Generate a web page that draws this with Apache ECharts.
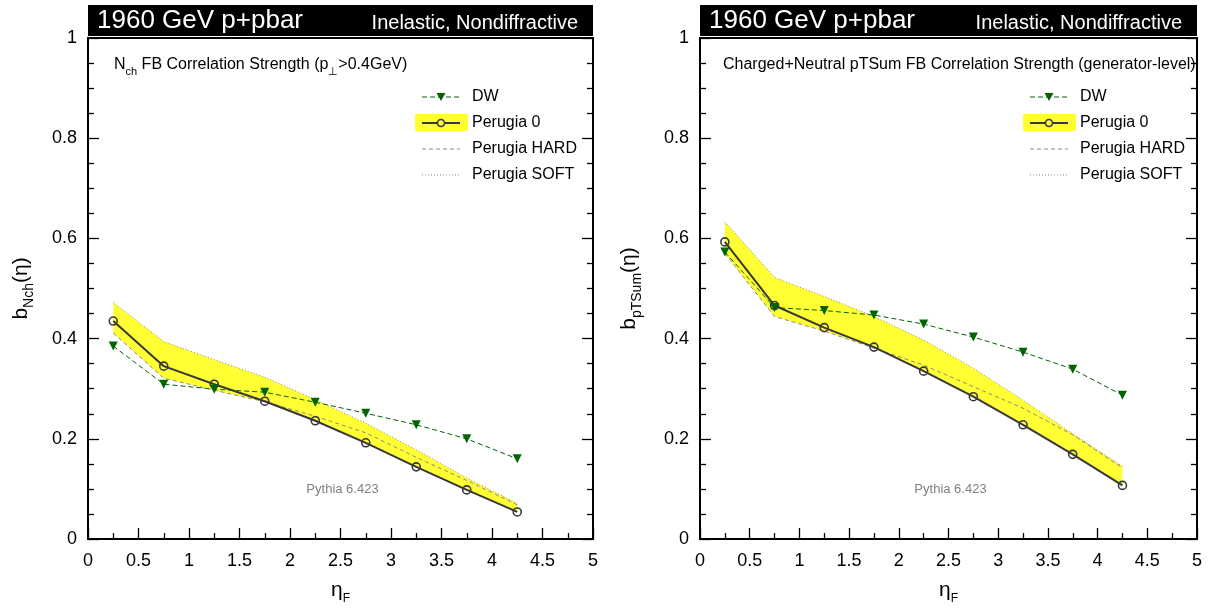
<!DOCTYPE html>
<html><head><meta charset="utf-8">
<script src="https://cdn.jsdelivr.net/npm/echarts@6/dist/echarts.min.js"></script>
<style>html,body{margin:0;padding:0;background:#fff}#c{width:1215px;height:608px}</style>
</head><body><div id="c"></div>
<script>
// ---- data ----
const eta = [0.25, 0.75, 1.25, 1.75, 2.25, 2.75, 3.25, 3.75, 4.25];
const xTicks = ['0','0.5','1','1.5','2','2.5','3','3.5','4','4.5','5'];
const yTicks = ['0','0.2','0.4','0.6','0.8','1'];
// Left panel: Nch FB correlation strength
const nchDW   = [0.385, 0.309, 0.299, 0.293, 0.273, 0.251, 0.228, 0.200, 0.160];
const nchP0   = [0.435, 0.345, 0.309, 0.275, 0.236, 0.192, 0.144, 0.098, 0.054];
const nchHARD = [0.411, 0.321, 0.297, 0.274, 0.245, 0.212, 0.163, 0.117, 0.068];
const nchSOFT = [0.472, 0.394, 0.358, 0.323, 0.278, 0.231, 0.178, 0.122, 0.071];
// Right panel: pTSum FB correlation strength
const ptDW   = [0.573, 0.462, 0.456, 0.447, 0.429, 0.403, 0.373, 0.339, 0.287];
const ptP0   = [0.593, 0.466, 0.422, 0.383, 0.335, 0.284, 0.228, 0.169, 0.107];
const ptHARD = [0.570, 0.444, 0.415, 0.381, 0.347, 0.304, 0.261, 0.208, 0.142];
const ptSOFT = [0.633, 0.522, 0.484, 0.444, 0.397, 0.341, 0.277, 0.210, 0.145];

const FONT = 'Liberation Sans, Arial, Helvetica, sans-serif';
const GREEN = '#006400', DARK = '#383838', GRAY = '#8a8a8a', YEL = '#ffff33';

function pairs(ys){ return eta.map((x,i)=>[x, ys[i]]); }

function panelSeries(gi, P0, HARD, SOFT, DW){
  const lo = P0.map((v,i)=>Math.min(v, HARD[i], SOFT[i]));
  const hi = P0.map((v,i)=>Math.max(v, HARD[i], SOFT[i]));
  const ax = {xAxisIndex: gi, yAxisIndex: gi*2};
  return [
    Object.assign({type:'custom', silent:true, z:1, data:[[eta[0], lo[0]]],
      renderItem:(params, api)=>{
        const pts = [];
        for (let i=0;i<eta.length;i++) pts.push(api.coord([eta[i], hi[i]]));
        for (let i=eta.length-1;i>=0;i--) pts.push(api.coord([eta[i], lo[i]]));
        return {type:'polygon', shape:{points:pts}, style:{fill:YEL}};
      }}, ax),
    Object.assign({type:'line', name:'Perugia HARD', data: pairs(HARD), symbol:'none',
      lineStyle:{color:GRAY, width:1, type:[4,3]}, z:3}, ax),
    Object.assign({type:'line', name:'Perugia SOFT', data: pairs(SOFT), symbol:'none',
      lineStyle:{color:GRAY, width:1, type:[1,2]}, z:3}, ax),
    Object.assign({type:'line', name:'Perugia 0', data: pairs(P0), symbol:'circle', symbolSize:8,
      itemStyle:{color:'rgba(0,0,0,0)', borderColor:DARK, borderWidth:1.6},
      lineStyle:{color:DARK, width:2}, z:4}, ax),
    Object.assign({type:'line', name:'DW', data: pairs(DW), symbol:'triangle', symbolRotate:180, symbolSize:9,
      itemStyle:{color:GREEN}, lineStyle:{color:GREEN, width:1, type:[5,3]}, z:5}, ax)
  ];
}

const grids = [
  {left:88, top:38, width:505, height:501},
  {left:700, top:38, width:497, height:501}
];

function xAxisFor(gi){
  return {type:'value', gridIndex:gi, min:0, max:5, interval:0.5, position:'bottom',
    axisLine:{show:true, onZero:false, lineStyle:{color:'#000', width:2}},
    axisTick:{show:true, inside:true, length:11, lineStyle:{color:'#000', width:1.3}},
    minorTick:{show:true, splitNumber:2, length:6, lineStyle:{color:'#000', width:1.3}},
    splitLine:{show:false},
    axisLabel:{color:'#000', fontSize:18, fontFamily:FONT, margin:13,
      formatter:(v)=>xTicks[Math.round(v/0.5)] ?? ''},
    name:'{i|η}{s|F}', nameLocation:'middle', nameGap:41,
    nameTextStyle:{rich:{
      i:{fontSize:21, fontFamily:FONT, color:'#000', lineHeight:25, verticalAlign:'top'},
      s:{fontSize:12, fontFamily:FONT, color:'#000', lineHeight:25, verticalAlign:'bottom'}
    }}
  };
}
function yAxisFor(gi, nameRich){
  return [{type:'value', gridIndex:gi, min:0, max:1, interval:0.2, position:'left',
    axisLine:{show:true, onZero:false, lineStyle:{color:'#000', width:2}},
    axisTick:{show:true, inside:true, length:11, lineStyle:{color:'#000', width:1.3}},
    minorTick:{show:true, splitNumber:4, length:6, lineStyle:{color:'#000', width:1.3}},
    splitLine:{show:false},
    axisLabel:{color:'#000', fontSize:18, fontFamily:FONT, margin:11,
      formatter:(v)=>yTicks[Math.round(v/0.2)] ?? ''},
    name:nameRich, nameLocation:'middle', nameGap:gi===0?52:56, nameRotate:90,
    nameTextStyle:{rich:{
      i:{fontSize:21, fontFamily:FONT, color:'#000', lineHeight:25, verticalAlign:'top'},
      s:{fontSize:14, fontFamily:FONT, color:'#000', lineHeight:25, verticalAlign:'bottom'}
    }}
  },
  {type:'value', gridIndex:gi, min:0, max:1, interval:0.2, position:'right',
    axisLine:{show:true, onZero:false, lineStyle:{color:'#000', width:2}},
    axisTick:{show:true, inside:true, length:11, lineStyle:{color:'#000', width:1.3}},
    minorTick:{show:true, splitNumber:4, length:6, lineStyle:{color:'#000', width:1.3}},
    splitLine:{show:false}, axisLabel:{show:false}
  }];
}

function panelGraphics(x0, x1, subtitleRich, subText, subX, legX){
  const g = [];
  // title bar
  g.push({type:'rect', shape:{x:x0, y:5, width:x1-x0, height:31}, style:{fill:'#000'}, z:10});
  g.push({type:'text', x:x0+9, y:21, style:{text:'1960 GeV p+pbar', fill:'#fff', font:'26px '+FONT, textVerticalAlign:'middle'}, z:11});
  g.push({type:'text', x:x1-15, y:23, style:{text:'Inelastic, Nondiffractive', fill:'#fff', font:'20px '+FONT, textAlign:'right', textVerticalAlign:'middle'}, z:11});
  // subtitle
  g.push({type:'text', x:subX, y:57, style:{text:subText, rich:subtitleRich, fill:'#000'}, z:11});
  // legend
  const lx0 = legX - 50, lx1 = legX - 12, lxm = (lx0+lx1)/2;
  const rows = [97, 123, 149, 175];
  const labels = ['DW','Perugia 0','Perugia HARD','Perugia SOFT'];
  g.push({type:'rect', shape:{x:legX-57, y:114, width:53, height:17}, style:{fill:YEL}, z:10});
  g.push({type:'line', shape:{x1:lx0, y1:rows[0], x2:lx1, y2:rows[0]}, style:{stroke:GREEN, lineWidth:1, lineDash:[5,3]}, z:11});
  g.push({type:'polygon', shape:{points:[[lxm-4.5,rows[0]-4],[lxm+4.5,rows[0]-4],[lxm,rows[0]+4]]}, style:{fill:GREEN}, z:12});
  g.push({type:'line', shape:{x1:lx0, y1:rows[1], x2:lx1, y2:rows[1]}, style:{stroke:DARK, lineWidth:2}, z:11});
  g.push({type:'circle', shape:{cx:lxm, cy:rows[1], r:3.5}, style:{fill:YEL, stroke:DARK, lineWidth:1.6}, z:12});
  g.push({type:'line', shape:{x1:lx0, y1:rows[2], x2:lx1, y2:rows[2]}, style:{stroke:GRAY, lineWidth:1, lineDash:[4,3]}, z:11});
  g.push({type:'line', shape:{x1:lx0, y1:rows[3], x2:lx1, y2:rows[3]}, style:{stroke:GRAY, lineWidth:1, lineDash:[1,2]}, z:11});
  labels.forEach((t,i)=>g.push({type:'text', x:legX, y:rows[i], style:{text:t, fill:'#000', font:'16px '+FONT, textVerticalAlign:'middle'}, z:11}));
  // generator tag
  g.push({type:'text', x:(x0+x1)/2+2, y:489, style:{text:'Pythia 6.423', fill:'#808080', font:'13px '+FONT, textAlign:'center', textVerticalAlign:'middle'}, z:11});
  return g;
}

const subRich = {
  m:{fontSize:16, fontFamily:FONT, color:'#000', lineHeight:20, verticalAlign:'top'},
  s:{fontSize:11, fontFamily:FONT, color:'#000', lineHeight:20, verticalAlign:'bottom'}
};

const chart = echarts.init(document.getElementById('c'), null, {renderer:'canvas'});
chart.setOption({
  animation:false,
  backgroundColor:'#fff',
  grid: grids.map(g=>Object.assign({show:true, borderColor:'#000', borderWidth:2, backgroundColor:'transparent',
    containLabel:false, outerBoundsMode:'none'}, g)),
  xAxis:[xAxisFor(0), xAxisFor(1)],
  yAxis:[...yAxisFor(0, '{i|b}{s|Nch}{i|(η)}'), ...yAxisFor(1, '{i|b}{s|pTSum}{i|(η)}')],
  series:[...panelSeries(0, nchP0, nchHARD, nchSOFT, nchDW), ...panelSeries(1, ptP0, ptHARD, ptSOFT, ptDW)],
  graphic:[
    ...panelGraphics(88, 593, subRich, '{m|N}{s|ch}{m| FB Correlation Strength (p}{s|⊥}{m|>0.4GeV)}', 114, 472),
    ...panelGraphics(700, 1197, subRich, '{m|Charged+Neutral pTSum FB Correlation Strength (generator-level)}', 723, 1080)
  ]
});
</script></body></html>
